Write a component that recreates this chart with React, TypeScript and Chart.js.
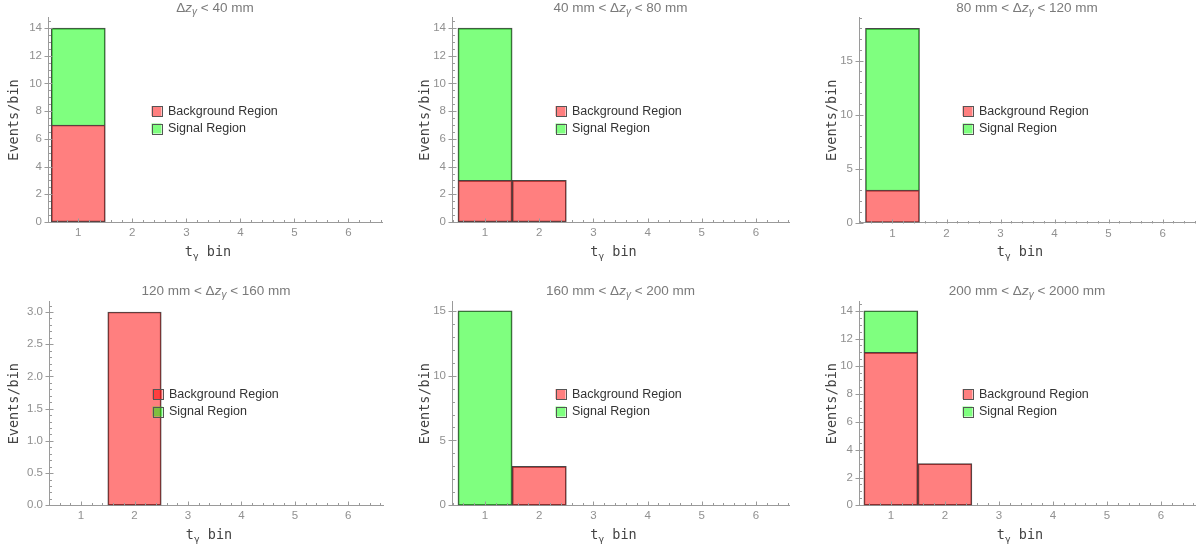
import React, { useEffect, useRef } from "react";
import { Chart, registerables } from "chart.js";

Chart.register(...registerables);

// ---------- data ----------
const BINS = [1, 2, 3, 4, 5, 6];
const X_TICKS = [1, 2, 3, 4, 5, 6];

const TITLE_PREFIX = ["", "40 mm < ", "80 mm < ", "120 mm < ", "160 mm < ", "200 mm < "];
const TITLE_SUFFIX = [" < 40 mm", " < 80 mm", " < 120 mm", " < 160 mm", " < 200 mm", " < 2000 mm"];

const SERIES_NAMES = ["Background Region", "Signal Region"];

const BACKGROUND_1 = [7, 0, 0, 0, 0, 0];
const SIGNAL_1 = [7, 0, 0, 0, 0, 0];
const BACKGROUND_2 = [3, 3, 0, 0, 0, 0];
const SIGNAL_2 = [11, 0, 0, 0, 0, 0];
const BACKGROUND_3 = [3, 0, 0, 0, 0, 0];
const SIGNAL_3 = [15, 0, 0, 0, 0, 0];
const BACKGROUND_4 = [0, 3, 0, 0, 0, 0];
const SIGNAL_4 = [0, 0, 0, 0, 0, 0];
const BACKGROUND_5 = [0, 3, 0, 0, 0, 0];
const SIGNAL_5 = [15, 0, 0, 0, 0, 0];
const BACKGROUND_6 = [11, 3, 0, 0, 0, 0];
const SIGNAL_6 = [3, 0, 0, 0, 0, 0];

const Y_TICKS_1 = [0, 2, 4, 6, 8, 10, 12, 14];
const Y_TICKS_2 = [0, 2, 4, 6, 8, 10, 12, 14];
const Y_TICKS_3 = [0, 5, 10, 15];
const Y_TICKS_4 = [0, 0.5, 1, 1.5, 2, 2.5, 3];
const Y_TICKS_5 = [0, 5, 10, 15];
const Y_TICKS_6 = [0, 2, 4, 6, 8, 10, 12, 14];

const BACKGROUNDS = [BACKGROUND_1, BACKGROUND_2, BACKGROUND_3, BACKGROUND_4, BACKGROUND_5, BACKGROUND_6];
const SIGNALS = [SIGNAL_1, SIGNAL_2, SIGNAL_3, SIGNAL_4, SIGNAL_5, SIGNAL_6];
const Y_TICKS = [Y_TICKS_1, Y_TICKS_2, Y_TICKS_3, Y_TICKS_4, Y_TICKS_5, Y_TICKS_6];
const Y_DECIMALS = [0, 0, 0, 1, 0, 0];

// axis ranges
const X_MIN = [0.44, 0.39, 0.38, 0.4, 0.39, 0.41];
const X_MAX = [6.62, 6.61, 6.6, 6.65, 6.61, 6.63];
const Y_MAX = [14.8, 14.8, 19.05, 3.17, 15.75, 14.7];
const X_MINOR = 0.2;
const Y_MINOR = [0.5, 0.5, 1, 0.1, 1, 0.5];

// ---------- layout / style ----------
const LAYOUT = [
  { left: 0, top: 0, w: 398, h: 269, L: 48, R: 382, T: 17, B: 222, yTitleX: 14 },
  { left: 400, top: 0, w: 398, h: 269, L: 52, R: 389, T: 17, B: 222, yTitleX: 25 },
  { left: 800, top: 0, w: 398, h: 269, L: 59, R: 395, T: 17, B: 222.5, yTitleX: 32 },
  { left: 0, top: 283, w: 398, h: 269, L: 49, R: 383, T: 18, B: 222.3, yTitleX: 14 },
  { left: 400, top: 283, w: 398, h: 269, L: 52, R: 389, T: 18, B: 222.3, yTitleX: 25 },
  { left: 800, top: 283, w: 398, h: 269, L: 59, R: 395, T: 18, B: 222.3, yTitleX: 32 },
];

const RED = "rgba(255,0,0,0.5)";
const GREEN = "rgba(0,255,0,0.5)";
const EDGE = "rgba(40,40,40,0.85)";
const AXIS = "#9a9a9a";
const TICK_TXT = "#909090";
const TITLE_TXT = "#7a7a7a";
const LABEL_TXT = "#444444";
const LEGEND_TXT = "#333333";
const SANS = "'Liberation Sans', Arial, sans-serif";
const MONO = "'DejaVu Sans Mono', monospace";

function Panel({ idx }: { idx: number }) {
  const ref = useRef<HTMLCanvasElement>(null);
  const lay = LAYOUT[idx];

  useEffect(() => {
    const canvas = ref.current!;
    const bg = BACKGROUNDS[idx];
    const sig = SIGNALS[idx];
    const yTicks = Y_TICKS[idx];

    const decor = {
      id: "decor" + idx,
      afterDatasetsDraw(chart: any) {
        const ctx = chart.ctx as CanvasRenderingContext2D;
        const xs = chart.scales.x;
        const ys = chart.scales.y;
        const area = chart.chartArea;
        ctx.save();
        // tick marks
        ctx.strokeStyle = AXIS;
        ctx.lineWidth = 1;
        const y0 = Math.round(area.bottom) + 0.5;
        const x0 = Math.round(area.left) + 0.5;
        ctx.beginPath();
        const xs0 = Math.ceil(X_MIN[idx] / X_MINOR - 1e-6);
        const xs1 = Math.floor(X_MAX[idx] / X_MINOR + 1e-6);
        for (let k = xs0; k <= xs1; k++) {
          const v = k * X_MINOR;
          const major = Math.abs(v - Math.round(v)) < 1e-6;
          const px = Math.round(xs.getPixelForValue(v)) + 0.5;
          ctx.moveTo(px, y0);
          ctx.lineTo(px, y0 - (major ? 4 : 2.5));
        }
        const ym = Y_MINOR[idx];
        const ys1 = Math.floor(Y_MAX[idx] / ym + 1e-6);
        for (let k = 0; k <= ys1; k++) {
          const v = k * ym;
          const major = yTicks.some((t) => Math.abs(t - v) < 1e-6);
          const py = Math.round(ys.getPixelForValue(v)) + 0.5;
          if (major) {
            ctx.moveTo(x0 - 4, py);
            ctx.lineTo(x0 + 4, py);
          } else {
            ctx.moveTo(x0, py);
            ctx.lineTo(x0 + 2.5, py);
          }
        }
        ctx.stroke();

        // legend
        const lx = area.left + 103.5;
        const rows = [111, 128.5];
        const cols = [RED, GREEN];
        ctx.font = `12.5px ${SANS}`;
        ctx.textBaseline = "middle";
        ctx.textAlign = "left";
        rows.forEach((ry, i) => {
          ctx.fillStyle = cols[i];
          ctx.fillRect(lx, ry - 5, 10, 10);
          ctx.strokeStyle = "#555";
          ctx.strokeRect(Math.round(lx) + 0.5, Math.round(ry - 5) + 0.5, 10, 10);
          ctx.fillStyle = LEGEND_TXT;
          ctx.fillText(SERIES_NAMES[i], lx + 16.5, ry + 0.5);
        });
        ctx.restore();
      },
      afterDraw(chart: any) {
        const ctx = chart.ctx as CanvasRenderingContext2D;
        const area = chart.chartArea;
        const cx = (area.left + area.right) / 2;
        ctx.save();
        // title
        const parts: [string, string, number][] = [
          [TITLE_PREFIX[idx], `13.5px ${SANS}`, 0],
          ["Δ", `13.5px ${SANS}`, 0],
          ["z", `italic 13.5px ${SANS}`, 0],
          ["γ", `italic 10px ${SANS}`, 3],
          [TITLE_SUFFIX[idx], `13.5px ${SANS}`, 0],
        ];
        let total = 0;
        parts.forEach(([t, f]) => {
          ctx.font = f;
          total += ctx.measureText(t).width;
        });
        let x = cx - total / 2;
        ctx.fillStyle = TITLE_TXT;
        ctx.textBaseline = "alphabetic";
        ctx.textAlign = "left";
        parts.forEach(([t, f, dy]) => {
          ctx.font = f;
          ctx.fillText(t, x, 11.8 + dy);
          x += ctx.measureText(t).width;
        });

        // x title: t_γ bin
        const xparts: [string, string, number][] = [
          ["t", `13.5px ${MONO}`, 0],
          ["γ", `9.5px ${MONO}`, 3],
          [" bin", `13.5px ${MONO}`, 0],
        ];
        total = 0;
        xparts.forEach(([t, f]) => {
          ctx.font = f;
          total += ctx.measureText(t).width;
        });
        x = cx - 7 - total / 2;
        ctx.fillStyle = LABEL_TXT;
        xparts.forEach(([t, f, dy]) => {
          ctx.font = f;
          ctx.fillText(t, x, 255.5 + dy);
          x += ctx.measureText(t).width;
        });

        // y title
        ctx.translate(lay.yTitleX, (area.top + area.bottom) / 2 + 0.5);
        ctx.rotate(-Math.PI / 2);
        ctx.font = `13.5px ${MONO}`;
        ctx.textAlign = "center";
        ctx.textBaseline = "middle";
        ctx.fillText("Events/bin", 0, 0);
        ctx.restore();
      },
    };

    const toPoints = (arr: number[]) => BINS.map((b, i) => ({ x: b, y: arr[i] ? arr[i] : null }));

    const chart = new Chart(canvas, {
      type: "bar",
      data: {
        datasets: [
          {
            label: SERIES_NAMES[0],
            data: toPoints(bg) as any,
            backgroundColor: RED,
            borderColor: EDGE,
            borderWidth: 1,
            borderSkipped: false,
            barPercentage: 1,
            categoryPercentage: 1,
          },
          {
            label: SERIES_NAMES[1],
            data: toPoints(sig) as any,
            backgroundColor: GREEN,
            borderColor: EDGE,
            borderWidth: 1,
            borderSkipped: ((c: any) => (bg[c.dataIndex] > 0 ? "start" : false)) as any,
            barPercentage: 1,
            categoryPercentage: 1,
          },
        ],
      },
      options: {
        animation: false,
        responsive: false,
        devicePixelRatio: 1,
        events: [],
        layout: { padding: { left: 0, top: lay.T, right: lay.w - lay.R, bottom: 0 } },
        plugins: { legend: { display: false }, title: { display: false }, tooltip: { enabled: false } },
        scales: {
          x: {
            type: "linear",
            stacked: true,
            offset: false,
            min: X_MIN[idx],
            max: X_MAX[idx],
            grid: { display: false, drawTicks: false, offset: false },
            border: { display: true, color: AXIS, width: 1 },
            afterBuildTicks: (s: any) => {
              s.ticks = X_TICKS.map((v) => ({ value: v }));
            },
            afterFit: (s: any) => {
              s.height = lay.h - lay.B;
            },
            ticks: {
              padding: 4,
              color: TICK_TXT,
              font: { family: SANS, size: 11.5 },
              maxRotation: 0,
              autoSkip: false,
              includeBounds: false,
              callback: (v: any) => String(v),
            },
          },
          y: {
            type: "linear",
            stacked: true,
            min: 0,
            max: Y_MAX[idx],
            grid: { display: false, drawTicks: false },
            border: { display: true, color: AXIS, width: 1 },
            afterBuildTicks: (s: any) => {
              s.ticks = yTicks.map((v) => ({ value: v }));
            },
            afterFit: (s: any) => {
              s.width = lay.L;
            },
            ticks: {
              padding: 6,
              color: TICK_TXT,
              font: { family: SANS, size: 11.5 },
              autoSkip: false,
              includeBounds: false,
              callback: (v: any) => Number(v).toFixed(Y_DECIMALS[idx]),
            },
          },
        },
      },
      plugins: [decor],
    });
    return () => chart.destroy();
  }, [idx]);

  return (
    <canvas
      ref={ref}
      width={lay.w}
      height={lay.h}
      style={{ position: "absolute", left: lay.left, top: lay.top, width: lay.w, height: lay.h }}
    />
  );
}

export default function App() {
  return (
    <div style={{ position: "absolute", left: 0, top: 0, width: 1198, height: 552, background: "#ffffff" }}>
      {LAYOUT.map((_, i) => (
        <Panel key={i} idx={i} />
      ))}
    </div>
  );
}
